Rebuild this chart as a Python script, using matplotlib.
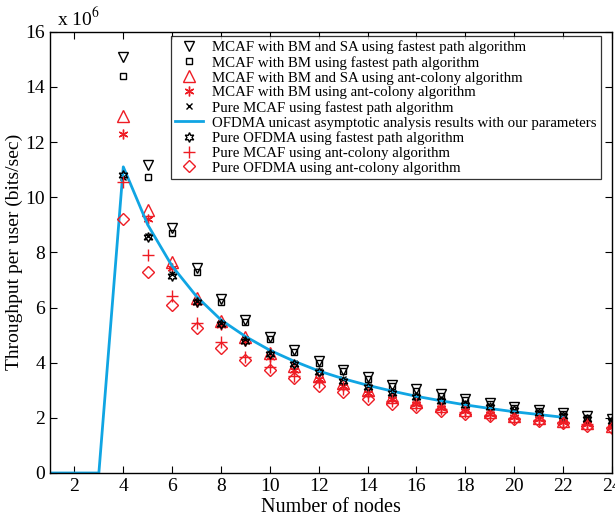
#!/usr/bin/env python
import matplotlib
matplotlib.use("Agg")
import matplotlib.pyplot as plt

plt.rcParams['font.family'] = ['Liberation Serif', 'DejaVu Serif']
plt.rcParams['mathtext.fontset'] = 'stix'

# number of nodes for the simulated points
nodes = list(range(4, 25))

# throughput values, in units of 1e6 bits/sec
bm_sa_fastest = [15.1, 11.15, 8.9, 7.45, 6.3, 5.55, 4.92, 4.45, 4.05, 3.75, 3.47,
                 3.2, 3.03, 2.86, 2.7, 2.55, 2.4, 2.28, 2.17, 2.05, 1.94]
bm_fastest = [14.4, 10.75, 8.7, 7.28, 6.2, 5.47, 4.85, 4.38, 3.98, 3.68, 3.4,
              3.14, 2.98, 2.8, 2.65, 2.5, 2.36, 2.24, 2.13, 2.01, 1.9]
bm_sa_ant = [12.95, 9.55, 7.65, 6.33, 5.5, 4.94, 4.35, 3.88, 3.5, 3.25, 3.0,
             2.75, 2.58, 2.42, 2.3, 2.2, 2.08, 2.0, 1.9, 1.82, 1.72]
bm_ant = [12.3, 9.2, 7.45, 6.2, 5.35, 4.78, 4.2, 3.75, 3.42, 3.15, 2.9,
          2.68, 2.5, 2.35, 2.24, 2.14, 2.03, 1.95, 1.86, 1.78, 1.68]
pure_mcaf_fastest = [10.75, 8.6, 7.2, 6.25, 5.45, 4.85, 4.35, 3.98, 3.7, 3.4, 3.15,
                     2.95, 2.8, 2.65, 2.52, 2.42, 2.3, 2.2, 2.1, 2.0, 1.9]
pure_ofdma_fastest = [10.8, 8.55, 7.15, 6.2, 5.4, 4.8, 4.3, 3.95, 3.65, 3.35, 3.1,
                      2.9, 2.75, 2.6, 2.48, 2.38, 2.27, 2.17, 2.07, 1.97, 1.87]
pure_mcaf_ant = [10.55, 7.9, 6.43, 5.45, 4.75, 4.2, 3.85, 3.5, 3.3, 3.05, 2.8,
                 2.6, 2.45, 2.32, 2.2, 2.1, 2.0, 1.92, 1.84, 1.76, 1.66]
pure_ofdma_ant = [9.22, 7.3, 6.09, 5.24, 4.53, 4.1, 3.73, 3.45, 3.15, 2.92, 2.7,
                  2.5, 2.38, 2.25, 2.15, 2.06, 1.97, 1.9, 1.8, 1.72, 1.62]

# asymptotic analysis curve
curve_nodes = list(range(1, 23))
curve_vals = [0, 0, 0, 11.1, 9.0, 7.5, 6.4, 5.55, 4.95, 4.45, 4.05, 3.7, 3.42,
              3.18, 2.97, 2.78, 2.62, 2.47, 2.34, 2.22, 2.12, 2.02]

labels = [
    "MCAF with BM and SA using fastest path algorithm",
    "MCAF with BM using fastest path algorithm",
    "MCAF with BM and SA using ant-colony algorithm",
    "MCAF with BM using ant-colony algorithm",
    "Pure MCAF using fastest path algorithm",
    "OFDMA unicast asymptotic analysis results with our parameters",
    "Pure OFDMA using fastest path algorithm",
    "Pure MCAF using ant-colony algorithm",
    "Pure OFDMA using ant-colony algorithm",
]

fig = plt.figure(figsize=(6.15, 5.2), dpi=100)
ax = fig.add_axes([0.0813, 0.0904, 0.9137, 0.8486])

red = '#ee1c24'
mk = dict(linestyle='none', markerfacecolor='none', markeredgewidth=1.0)

ax.plot(nodes, bm_sa_fastest, marker='v', color='k', markersize=7, label=labels[0], **mk)
ax.plot(nodes, bm_fastest, marker='s', color='k', markersize=5, label=labels[1], **mk)
ax.plot(nodes, bm_sa_ant, marker='^', color=red, markersize=8, label=labels[2], **mk)
ax.plot(nodes, bm_ant, marker=(6, 2, 0), color=red, markersize=7, label=labels[3], **mk)
ax.plot(nodes, pure_mcaf_fastest, marker='x', color='k', markersize=5, label=labels[4], **mk)
ax.plot(curve_nodes, curve_vals, color='#10a5e3', linewidth=2, label=labels[5])
ax.plot(nodes, pure_ofdma_fastest, marker=(6, 1, 0), color='k', markersize=7, label=labels[6], **mk)
ax.plot(nodes, pure_mcaf_ant, marker='+', color=red, markersize=8, label=labels[7], **mk)
ax.plot(nodes, pure_ofdma_ant, marker='D', color=red, markersize=6, label=labels[8], **mk)

ax.set_xlim(1, 24)
ax.set_ylim(0, 16)
ax.set_xticks(range(2, 25, 2))
ax.set_yticks(range(0, 17, 2))
ax.tick_params(direction='in', top=True, right=True, labelsize=14, length=5)
ax.set_xlabel("Number of nodes", fontsize=14.5, labelpad=2)
ax.set_ylabel("Throughput per user (bits/sec)", fontsize=14, labelpad=2)
ax.text(0.012, 1.005, r"x 10$^6$", transform=ax.transAxes, fontsize=14, va='bottom', ha='left')

for s in ax.spines.values():
    s.set_linewidth(1.0)

leg = ax.legend(loc='upper right', bbox_to_anchor=(0.981, 0.99), borderaxespad=0,
                fontsize=10.7, frameon=True, fancybox=False, edgecolor='k',
                labelspacing=0.1, handlelength=1.9, handletextpad=0.6, borderpad=0.3)
leg.get_frame().set_linewidth(0.9)

fig.savefig("out.png", dpi=100)
